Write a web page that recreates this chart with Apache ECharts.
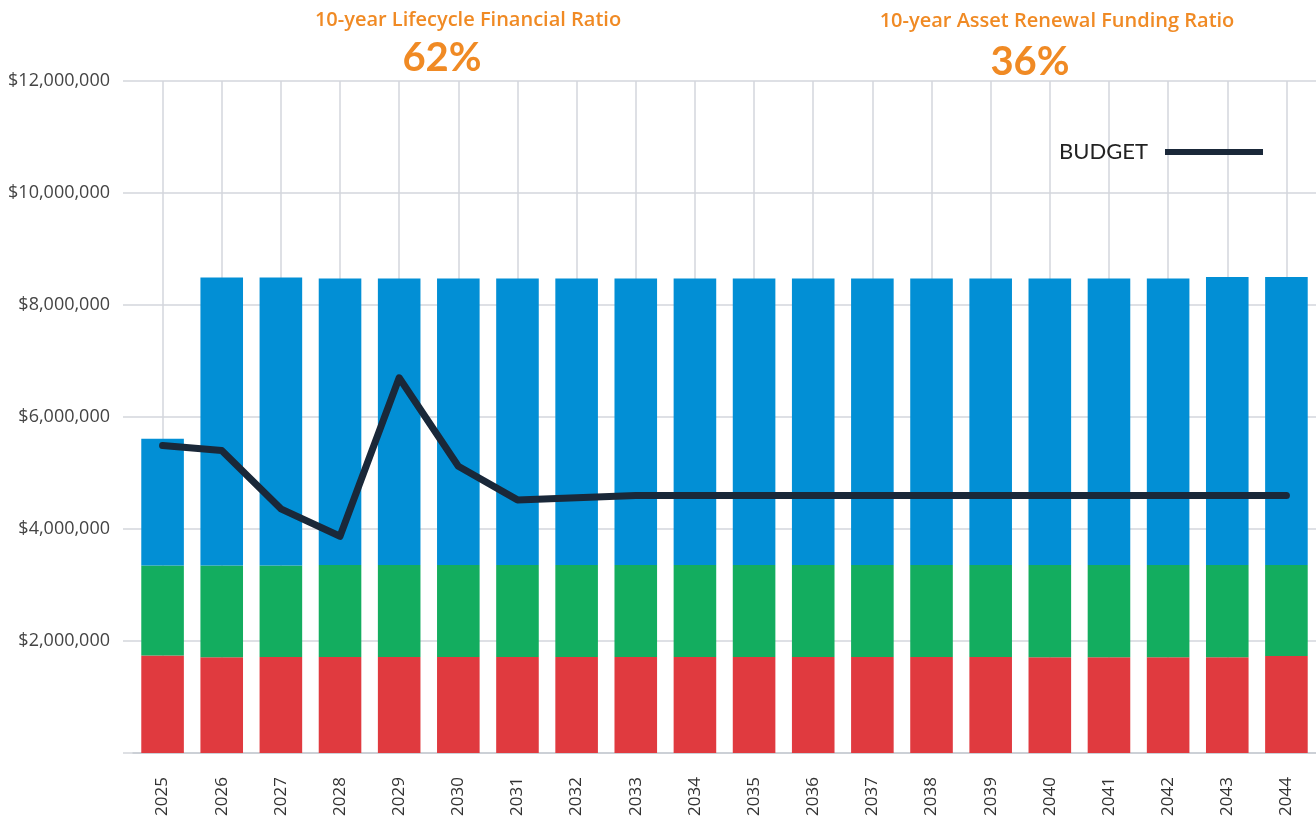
<!DOCTYPE html>
<html>
<head>
<meta charset="utf-8">
<title>Lifecycle Funding</title>
<script src="https://cdn.jsdelivr.net/npm/echarts@6/dist/echarts.min.js"></script>
<style>
    html, body { margin: 0; padding: 0; background: #fff; }
    #chart { width: 1316px; height: 821px; }
</style>
</head>
<body>
<div id="chart"></div>
<script>
// categories
var years = ["2025", "2026", "2027", "2028", "2029", "2030", "2031", "2032", "2033", "2034",
             "2035", "2036", "2037", "2038", "2039", "2040", "2041", "2042", "2043", "2044"];

// stacked bars (bottom to top)
var redValues = [1740000, 1710000, 1715000, 1715000, 1715000, 1715000, 1715000, 1715000, 1715000, 1715000,
                 1715000, 1715000, 1715000, 1715000, 1715000, 1710000, 1710000, 1710000, 1710000, 1730000];
var greenValues = [1610000, 1640000, 1635000, 1640000, 1640000, 1640000, 1640000, 1640000, 1640000, 1640000,
                   1640000, 1640000, 1640000, 1640000, 1640000, 1645000, 1645000, 1645000, 1645000, 1625000];
var blueValues = [2260000, 5140000, 5140000, 5120000, 5120000, 5120000, 5120000, 5120000, 5120000, 5120000,
                  5120000, 5120000, 5120000, 5120000, 5120000, 5120000, 5120000, 5120000, 5145000, 5145000];

// budget line
var budgetValues = [5490000, 5400000, 4360000, 3870000, 6700000, 5120000, 4520000, 4560000, 4600000, 4600000,
                    4600000, 4600000, 4600000, 4600000, 4600000, 4600000, 4600000, 4600000, 4600000, 4600000];

// y ticks
var yMin = 0;
var yMax = 12000000;
var yStep = 2000000;

var chart = echarts.init(document.getElementById("chart"));

var gridColor = "#d3d6dc";
var orange = "#f08a24";

chart.setOption({
    animation: false,
    textStyle: { fontFamily: "Open Sans" },
    title: [
        {
            text: "10-year Lifecycle Financial Ratio",
            left: 463, top: 5, textAlign: "center",
            textStyle: { color: orange, fontSize: 20, fontWeight: 600, fontFamily: "Open Sans" }
        },
        {
            text: "62%",
            left: 437, top: 33, textAlign: "center",
            textStyle: { color: orange, fontSize: 40, fontWeight: "bold", fontFamily: "Lato" }
        },
        {
            text: "10-year Asset Renewal Funding Ratio",
            left: 1052, top: 6, textAlign: "center",
            textStyle: { color: orange, fontSize: 20, fontWeight: 600, fontFamily: "Open Sans" }
        },
        {
            text: "36%",
            left: 1025, top: 37, textAlign: "center",
            textStyle: { color: orange, fontSize: 40, fontWeight: "bold", fontFamily: "Lato" }
        }
    ],
    legend: {
        data: ["BUDGET"],
        right: 48,
        top: 136,
        align: "right",
        icon: "rect",
        itemWidth: 98,
        itemHeight: 6,
        textStyle: { color: "#222", fontSize: 22, fontFamily: "Lato", padding: [0, 12, 0, 0] }
    },
    grid: {
        left: 133,
        right: -7,
        top: 81,
        bottom: 68,
        containLabel: false
    },
    xAxis: {
        type: "category",
        data: years,
        axisLine: { lineStyle: { color: "#ccd0d6", width: 2 } },
        axisTick: { alignWithLabel: true, length: 12, lineStyle: { color: "#ccd0d6", width: 2 } },
        axisLabel: { rotate: 90, margin: 24, color: "#333", fontSize: 17 },
        splitLine: { show: true, alignWithLabel: true, lineStyle: { color: gridColor, width: 1.5 } }
    },
    yAxis: {
        type: "value",
        min: yMin,
        max: yMax,
        interval: yStep,
        axisLine: { show: false },
        axisTick: { show: true, length: 10, lineStyle: { color: gridColor, width: 1.5 } },
        axisLabel: {
            margin: 23,
            color: "#444",
            fontSize: 18,
            formatter: function (v) {
                if (v === 0) return "";
                return "$" + v.toLocaleString("en-US");
            }
        },
        splitLine: { lineStyle: { color: gridColor, width: 1.5 } }
    },
    series: [
        {
            name: "Operations",
            type: "bar",
            stack: "total",
            barWidth: "72%",
            itemStyle: { color: "#e03a3f" },
            data: redValues
        },
        {
            name: "Maintenance",
            type: "bar",
            stack: "total",
            itemStyle: { color: "#13ad5f" },
            data: greenValues
        },
        {
            name: "Renewal",
            type: "bar",
            stack: "total",
            itemStyle: { color: "#028fd5" },
            data: blueValues
        },
        {
            name: "BUDGET",
            type: "line",
            z: 5,
            symbol: "none",
            itemStyle: { color: "#1a2839" },
            lineStyle: { color: "#1a2839", width: 7, cap: "round", join: "round" },
            data: budgetValues
        }
    ]
});
</script>
</body>
</html>
